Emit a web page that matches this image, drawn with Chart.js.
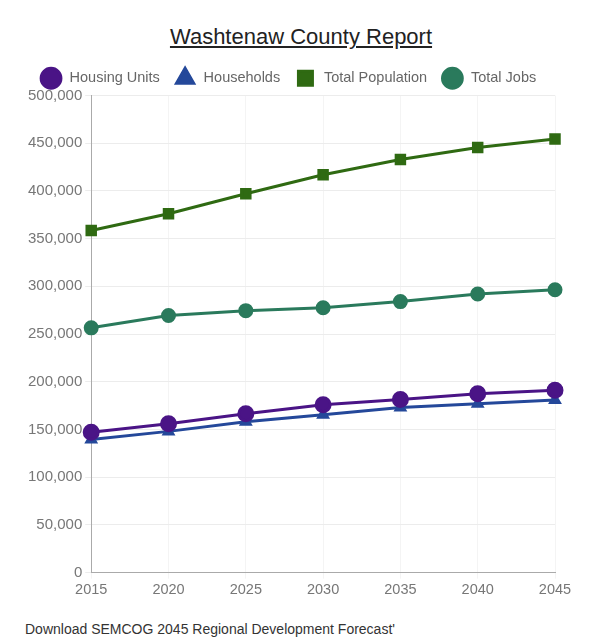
<!DOCTYPE html>
<html lang="en">
    <head>
        <title> Washtenaw County Report </title>
        <script src="https://cdn.jsdelivr.net/npm/chart.js@4.4.1/dist/chart.umd.min.js"></script>
        <style>
            body { margin: 0; background: #fff; font-family: "Liberation Sans", Arial, sans-serif; }
            #title {
                position: absolute; left: 0; top: 24px; width: 602px; text-align: center;
                font-size: 22px; color: #222; text-decoration: underline;
            }
            #wrap { position: absolute; left: 5px; top: 53px; width: 584px; height: 549px; }
            #footer { position: absolute; left: 25px; top: 621px; font-size: 14px; color: #333; }
        </style>
    </head>

    <body>
        <div id="title">Washtenaw County Report</div>
        <div id="wrap"><canvas id="myChart"></canvas></div>
        <div id="footer">Download SEMCOG 2045 Regional Development Forecast'</div>

        <script>

            const Years = ['2015', '2020', '2025', '2030', '2035', '2040', '2045'];

            const HousingUnits    = [147000, 156000, 166500, 176000, 181500, 187500, 191000];
            const Households      = [139500, 148000, 158000, 165500, 173000, 177000, 181000];
            const TotalPopulation = [358500, 376000, 397000, 417000, 433000, 445500, 454500];
            const TotalJobs       = [256500, 269500, 274500, 277500, 284000, 292000, 296500];

            const fontFamily = '"Liberation Sans", Arial, sans-serif';

            const chartContext = document.getElementById('myChart').getContext('2d');
            const myLineChart = new Chart(chartContext, {
                type: 'line',
                data: {
                    labels: Years,
                    datasets: [
                        {
                            label: 'Housing Units',
                            data: HousingUnits,
                            borderColor: '#4a1486',
                            backgroundColor: '#4a1486',
                            pointStyle: 'circle',
                            pointRadius: 7,
                            borderWidth: 3
                        },
                        {
                            label: 'Households',
                            data: Households,
                            borderColor: '#24489a',
                            backgroundColor: '#24489a',
                            pointStyle: 'triangle',
                            pointRadius: 5,
                            borderWidth: 3
                        },
                        {
                            label: 'Total Population',
                            data: TotalPopulation,
                            borderColor: '#2f6a12',
                            backgroundColor: '#2f6a12',
                            pointStyle: 'rect',
                            pointRadius: 6,
                            borderWidth: 3
                        },
                        {
                            label: 'Total Jobs',
                            data: TotalJobs,
                            borderColor: '#2a7a5c',
                            backgroundColor: '#2a7a5c',
                            pointStyle: 'circle',
                            pointRadius: 6,
                            borderWidth: 3
                        }
                    ]
                },
                options: {
                    responsive: true,
                    maintainAspectRatio: false,
                    animation: false,
                    layout: { padding: { left: 20, right: 34, top: 0, bottom: 0 } },
                    plugins: {
                        legend: {
                            position: 'top',
                            labels: {
                                usePointStyle: true,
                                boxWidth: 16,
                                boxHeight: 14,
                                padding: 18,
                                color: '#666',
                                font: { size: 14.5, family: fontFamily },
                                generateLabels: chart => Chart.defaults.plugins.legend.labels.generateLabels(chart)
                                    .map(item => Object.assign(item, { text: ' ' + item.text }))
                            }
                        },
                        tooltip: { enabled: false }
                    },
                    scales: {
                        x: {
                            grid: { color: '#f4f4f4', tickLength: 6 },
                            border: { color: '#aaa' },
                            ticks: { color: '#777', font: { size: 14.5, family: fontFamily } }
                        },
                        y: {
                            min: 0,
                            max: 500000,
                            ticks: {
                                stepSize: 50000,
                                color: '#777',
                                font: { size: 15, family: fontFamily },
                                callback: v => v.toLocaleString('en-US')
                            },
                            grid: { color: '#ececec', tickLength: 6 },
                            border: { color: '#aaa' }
                        }
                    }
                }
            });

        </script>
    </body>
</html>
